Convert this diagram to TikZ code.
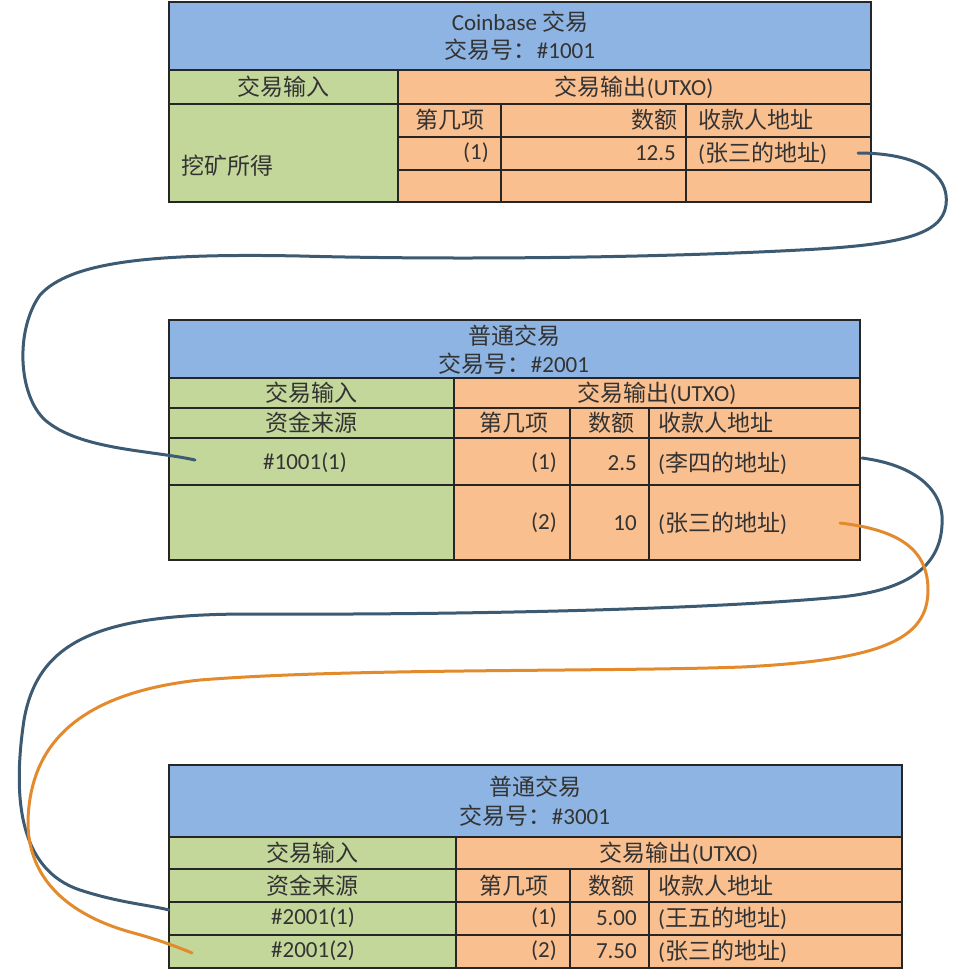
\documentclass[tikz,border=0pt]{standalone}
\usepackage{fontspec}
\setmainfont{Carlito}
\newfontfamily\cjk[Scale=1.0]{Noto Sans CJK SC}
\newcommand{\zh}[1]{{\cjk #1}}
\definecolor{hdrblue}{HTML}{8DB4E2}
\definecolor{ingreen}{HTML}{C4D79B}
\definecolor{outorange}{HTML}{FABF8F}
\definecolor{gridc}{HTML}{262626}
\definecolor{txtc}{HTML}{333333}
\definecolor{linkblue}{HTML}{3D5A73}
\definecolor{linkorange}{HTML}{E38B2C}
\begin{document}
\begin{tikzpicture}[x=1pt,y=-1pt,
  gridline/.style={draw=gridc,line width=2.8pt},
  txt/.style={font=\fontsize{23}{28}\selectfont,text=txtc,inner sep=0pt},
  lt/.style={txt,anchor=west},
  rt/.style={txt,anchor=east},
  linkb/.style={draw=linkblue,line width=3pt,line cap=round},
  linko/.style={draw=linkorange,line width=3pt,line cap=round}]
\useasboundingbox (0,0) rectangle (969,970);
\fill[white] (0,0) rectangle (969,970);

% ---------- Table 1 ----------
\fill[hdrblue] (169,2) rectangle (871,70);
\fill[ingreen] (169,70) rectangle (398,202);
\fill[outorange] (398,70) rectangle (871,202);
\draw[gridline] (169,70) -- (871,70) (169,104) -- (871,104)
  (398,137) -- (871,137) (398,170) -- (871,170)
  (398,70) -- (398,202) (501,104) -- (501,202) (686,104) -- (686,202);
\draw[gridline] (169,2) rectangle (871,202);
\node[txt] (h1a) at (520,22) {Coinbase \zh{交易}};
\node[txt] (h1b) at (520,50) {\zh{交易号：}\#1001};
\node[txt] (in1) at (283,87) {\zh{交易输入}};
\node[txt] (out1) at (634,87) {\zh{交易输出}(UTXO)};
\node[txt] (c1a) at (449.5,120) {\zh{第几项}};
\node[rt] (c1b) at (678,120) {\zh{数额}};
\node[lt] (c1c) at (698,120) {\zh{收款人地址}};
\node[rt] (r1a) at (489,153) {(1)};
\node[rt] (r1b) at (676,153) {12.5};
\node[lt] (r1c) at (698,153) {(\zh{张三的地址})};
\node[lt] (src1) at (181,166) {\zh{挖矿所得}};

% ---------- Table 2 ----------
\fill[hdrblue] (169,320) rectangle (860,378);
\fill[ingreen] (169,378) rectangle (454,560);
\fill[outorange] (454,378) rectangle (860,560);
\draw[gridline] (169,378) -- (860,378) (169,408) -- (860,408)
  (169,438) -- (860,438) (169,485) -- (860,485)
  (454,378) -- (454,560) (570,408) -- (570,560) (649,408) -- (649,560);
\draw[gridline] (169,320) rectangle (860,560);
\node[txt] (h2a) at (514,336) {\zh{普通交易}};
\node[txt] (h2b) at (514,364) {\zh{交易号：}\#2001};
\node[txt] (in2) at (311,393) {\zh{交易输入}};
\node[txt] (out2) at (657,393) {\zh{交易输出}(UTXO)};
\node[txt] (src2) at (311,423) {\zh{资金来源}};
\node[txt] (c2a) at (514,423) {\zh{第几项}};
\node[txt] (c2b) at (611,423) {\zh{数额}};
\node[lt] (c2c) at (658,423) {\zh{收款人地址}};
\node[txt] (i2a) at (305,463) {\#1001(1)};
\node[rt] (r2a) at (557,463) {(1)};
\node[rt] (r2b) at (637,463) {2.5};
\node[lt] (r2c) at (658,463) {(\zh{李四的地址})};
\node[rt] (r3a) at (557,523) {(2)};
\node[rt] (r3b) at (637,523) {10};
\node[lt] (r3c) at (658,523) {(\zh{张三的地址})};

% ---------- Table 3 ----------
\fill[hdrblue] (169,765) rectangle (902,837);
\fill[ingreen] (169,837) rectangle (456,968);
\fill[outorange] (456,837) rectangle (902,968);
\draw[gridline] (169,837) -- (902,837) (169,869) -- (902,869)
  (169,902) -- (902,902) (169,935) -- (902,935)
  (456,837) -- (456,968) (570,869) -- (570,968) (649,869) -- (649,968);
\draw[gridline] (169,765) rectangle (902,968);
\node[txt] (h3a) at (535,787) {\zh{普通交易}};
\node[txt] (h3b) at (535,816) {\zh{交易号：}\#3001};
\node[txt] (in3) at (312,853) {\zh{交易输入}};
\node[txt] (out3) at (679,853) {\zh{交易输出}(UTXO)};
\node[txt] (src3) at (312,886) {\zh{资金来源}};
\node[txt] (c3a) at (514,886) {\zh{第几项}};
\node[txt] (c3b) at (611,886) {\zh{数额}};
\node[lt] (c3c) at (658,886) {\zh{收款人地址}};
\node[txt] (i3a) at (313,918) {\#2001(1)};
\node[rt] (r4a) at (557,918) {(1)};
\node[rt] (r4b) at (637,918) {5.00};
\node[lt] (r4c) at (658,918) {(\zh{王五的地址})};
\node[txt] (i3b) at (313,951) {\#2001(2)};
\node[rt] (r5a) at (557,951) {(2)};
\node[rt] (r5b) at (637,951) {7.50};
\node[lt] (r5c) at (658,951) {(\zh{张三的地址})};

% ---------- Links ----------
\coordinate (s1) at (858,153);
\coordinate (e1) at (195,460);
\coordinate (s2) at (862,458);
\coordinate (e2) at (169,910);
\coordinate (s3) at (840,523);
\coordinate (e3) at (192,953);

\draw[linkb] (s1) .. controls (920,153) and (950,175) .. (946,205)
  .. controls (942,235) and (900,245) .. (800,250)
  .. controls (650,258) and (450,260) .. (300,256)
  .. controls (150,253) and (70,262) .. (40,295)
  .. controls (15,330) and (18,395) .. (45,420)
  .. controls (80,450) and (150,450) .. (e1);

\draw[linkb] (s2) .. controls (915,465) and (945,490) .. (942,525)
  .. controls (940,565) and (910,590) .. (840,597)
  .. controls (700,610) and (450,615) .. (250,614)
  .. controls (100,614) and (38,640) .. (24,720)
  .. controls (12,800) and (20,870) .. (80,890)
  .. controls (120,903) and (150,905) .. (e2);

\draw[linko] (s3) .. controls (900,530) and (928,550) .. (928,590)
  .. controls (928,640) and (880,660) .. (742,667)
  .. controls (600,672) and (350,668) .. (200,680)
  .. controls (60,695) and (30,760) .. (28,820)
  .. controls (27,880) and (70,915) .. (130,932)
  .. controls (160,940) and (180,948) .. (e3);
\end{tikzpicture}
\end{document}
